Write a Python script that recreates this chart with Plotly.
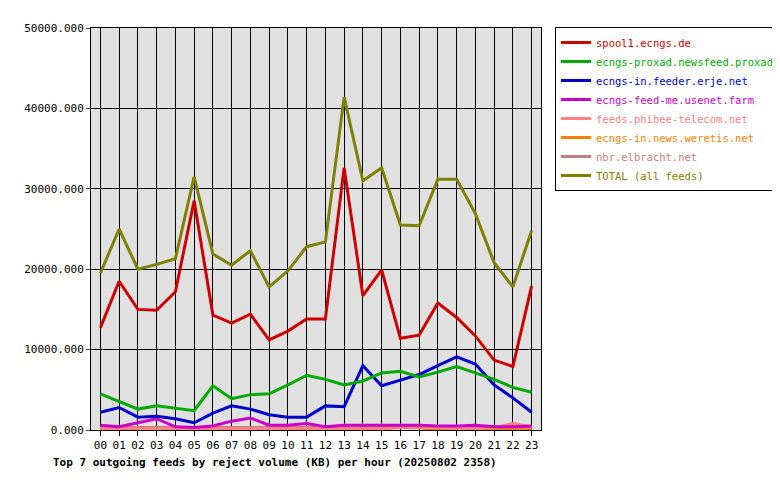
import plotly.graph_objects as go

hours = [f"{h:02d}" for h in range(24)]
total = [19500,25000,20000,20600,21300,31500,21900,20500,22300,17800,19800,22800,23400,41400,31000,32600,25500,25400,31200,31200,26900,20800,17800,24800]
spool1 = [12700,18500,15000,14900,17200,28500,14300,13300,14400,11200,12300,13800,13800,32600,16700,19900,11400,11800,15800,14000,11700,8700,7900,17900]
proxad = [4500,3600,2600,3000,2700,2400,5500,3900,4400,4500,5600,6800,6300,5600,6100,7100,7300,6600,7200,7900,7100,6300,5300,4700]
erje = [2200,2800,1600,1700,1400,900,2100,3000,2600,1900,1600,1600,3000,2900,8000,5500,6200,6900,8000,9100,8200,5600,4000,2200]
usenet = [600,400,900,1400,400,300,500,1100,1500,600,600,800,400,600,600,600,600,600,500,500,600,400,400,500]
phibee = [200,200,200,200,200,200,200,200,200,200,200,200,200,200,200,200,300,400,300,200,200,300,800,400]
weretis = [0,0,0,0,0,0,0,0,0,0,0,0,0,0,0,0,500,300,0,0,0,0,0,0]
elbracht = [300]*24

series = [
    ("spool1.ecngs.de", spool1, "#cc0000"),
    ("ecngs-proxad.newsfeed.proxad.net", proxad, "#00aa00"),
    ("ecngs-in.feeder.erje.net", erje, "#0000cc"),
    ("ecngs-feed-me.usenet.farm", usenet, "#cc00cc"),
    ("feeds.phibee-telecom.net", phibee, "#ff8080"),
    ("ecngs-in.news.weretis.net", weretis, "#ff8000"),
    ("nbr.elbracht.net", elbracht, "#c08080"),
    ("TOTAL (all feeds)", total, "#808000"),
]
draw_order = [6, 5, 4, 3, 2, 1, 0, 7]
fig = go.Figure()
for i in draw_order:
    name, vals, col = series[i]
    fig.add_trace(go.Scatter(x=hours, y=vals, name=f"<span style='color:{col}'>{name}</span>",
                             mode="lines", line=dict(color=col, width=3), legendrank=i+1))

mono = "DejaVu Sans Mono"
fig.update_layout(
    width=780, height=480, paper_bgcolor="white", plot_bgcolor="#e0e0e0",
    margin=dict(l=83, r=247, t=20, b=58, autoexpand=False),
    font=dict(family=mono, size=11, color="black"),
    showlegend=True,
    legend=dict(xref="container", yref="container", x=547/780, y=1-19/480,
                xanchor="left", yanchor="top", bordercolor="black",
                borderwidth=1, bgcolor="white", tracegroupgap=0, itemwidth=30,
                font=dict(family=mono, size=10.5)),
    xaxis=dict(type="category", showgrid=True, gridcolor="black", gridwidth=1,
               showline=True, linecolor="black", mirror=True, ticks="outside",
               ticklen=5, tickcolor="black", range=[-0.5, 23.5]),
    yaxis=dict(range=[0, 50000], dtick=10000, tickformat=".3f", showgrid=True,
               gridcolor="black", gridwidth=1, showline=True, linecolor="black",
               mirror=True, ticks="outside", ticklen=4, zeroline=False),
    annotations=[dict(text="<b>Top 7 outgoing feeds by reject volume (KB) per hour (20250802 2358)</b>",
                      xref="paper", yref="paper", x=-0.09, y=-0.06, xanchor="left",
                      yanchor="top", showarrow=False, font=dict(family=mono, size=11))],
)
fig.write_html("out.html")
